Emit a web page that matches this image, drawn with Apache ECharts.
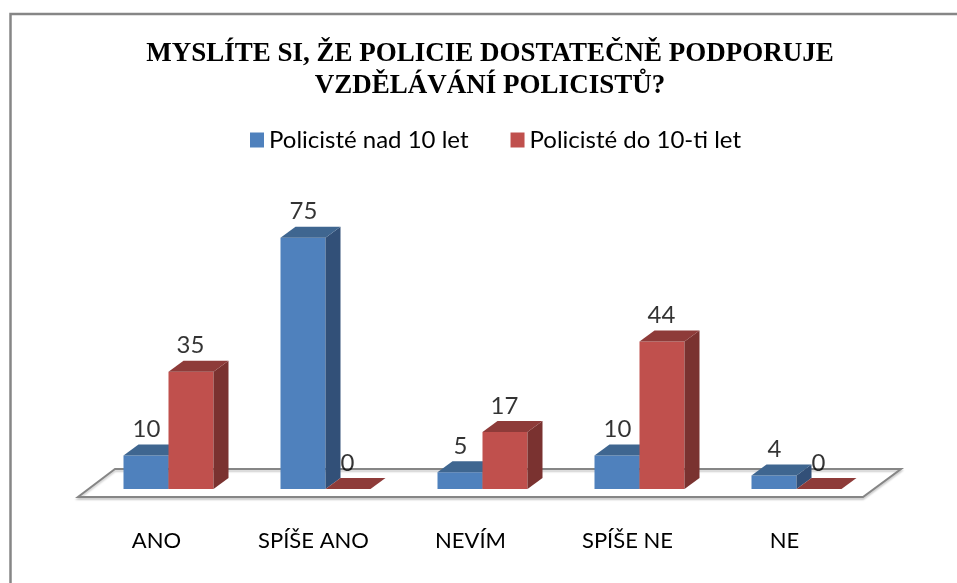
<!doctype html>
<html>
<head>
<meta charset="utf-8">
<title></title>
<script src="https://cdn.jsdelivr.net/npm/echarts@6/dist/echarts.min.js"></script>
<style>
html,body { margin:0; width:100%; height:100%; background:#fff; overflow:hidden; }
#container { width:957px; height:583px; }
</style>
</head>
<body>
<div id="container"></div>
<script type="text/javascript">
var categories = ['ANO', 'SPÍŠE ANO', 'NEVÍM', 'SPÍŠE NE', 'NE'];
var olderValues = [10, 75, 5, 10, 4];
var youngerValues = [35, 0, 17, 44, 0];
var olderName = 'Policisté nad 10 let';
var youngerName = 'Policisté do 10-ti let';
var chartTitle = 'MYSLÍTE SI, ŽE POLICIE DOSTATEČNĚ PODPORUJE\nVZDĚLÁVÁNÍ POLICISTŮ?';

var barW = 45, depthX = 15, depthY = 11;

function poly(points, fill) {
	return { type: 'polygon', shape: { points: points }, style: { fill: fill } };
}

// 3D look: front, top and side faces, offset by the depth
function bar3d(side, front, top, right) {
	return function(params, api) {
		var base = api.coord([params.dataIndex, 0]);
		var tip = api.coord([params.dataIndex, api.value(1)]);
		var x0 = side < 0 ? base[0] - barW : base[0];
		var x1 = x0 + barW, y0 = tip[1], y1 = base[1];
		var kids = [];
		if (y1 - y0 > 0.5) {
			kids.push(poly([[x0, y0], [x1, y0], [x1, y1], [x0, y1]], front));
			kids.push(poly([[x1, y0], [x1 + depthX, y0 - depthY], [x1 + depthX, y1 - depthY], [x1, y1]], right));
		}
		kids.push(poly([[x0, y0], [x1, y0], [x1 + depthX, y0 - depthY], [x0 + depthX, y0 - depthY]], top));
		return { type: 'group', children: kids };
	};
}

function floorItem(params, api) {
	var s = params.coordSys;
	var yb = s.y + s.height;
	var pts = [[s.x - 12, yb + 8], [s.x + s.width - 12, yb + 8], [s.x + s.width + 26, yb - 20], [s.x + 25, yb - 20]];
	return {
		type: 'group',
		children: [{
			type: 'polygon',
			shape: { points: pts },
			style: { fill: '#fff', stroke: '#868686', lineWidth: 2, shadowColor: '#ccc', shadowBlur: 2, shadowOffsetY: 2 }
		}]
	};
}

function labelSeries(name, values, dx) {
	return {
		name: name + ' label',
		type: 'scatter',
		silent: true,
		symbolSize: 0,
		z: 10,
		data: values,
		label: {
			show: true,
			position: 'top',
			offset: [dx, -14],
			distance: 0,
			formatter: '{c}',
			fontFamily: 'Lato',
			fontSize: 24,
			color: '#000'
		}
	};
}

var dom = document.getElementById('container');
var myChart = echarts.init(dom);

var option = {
	animation: false,
	backgroundColor: '#fff',
	title: {
		text: chartTitle,
		left: 485,
		top: 33,
		textAlign: 'center',
		textStyle: { fontFamily: 'Liberation Serif', fontWeight: 'bold', fontSize: 27, lineHeight: 32, color: '#000' }
	},
	legend: {
		left: 245,
		top: 123,
		itemWidth: 14,
		itemHeight: 15,
		itemGap: 42,
		icon: 'rect',
		data: [olderName, youngerName],
		textStyle: { fontFamily: 'Lato', fontSize: 24, color: '#000' }
	},
	grid: { left: 90, width: 785, top: 221, height: 268 },
	xAxis: {
		type: 'category',
		data: categories,
		axisLine: { show: false },
		axisTick: { show: false },
		axisLabel: { margin: 41, padding: [0, 24, 0, 0], fontFamily: 'Lato', fontSize: 22, color: '#000', interval: 0 }
	},
	yAxis: { type: 'value', min: 0, max: 80, show: false },
	graphic: [{
		type: 'polyline',
		shape: { points: [[10.5, 583], [10.5, 14], [957, 14]] },
		style: { fill: 'none', stroke: '#868686', lineWidth: 2.5 }
	}],
	series: [{
		type: 'custom',
		silent: true,
		z: 1,
		renderItem: floorItem,
		data: [0]
	}, {
		name: olderName,
		type: 'custom',
		z: 2,
		itemStyle: { color: '#4f81bd' },
		renderItem: bar3d(-1, '#4f81bd', '#3f6690', '#325078'),
		encode: { x: 0, y: 1 },
		data: olderValues.map(function(v, i) { return [i, v]; })
	}, {
		name: youngerName,
		type: 'custom',
		z: 3,
		itemStyle: { color: '#c0504d' },
		renderItem: bar3d(1, '#c0504d', '#8e3b39', '#7a3230'),
		encode: { x: 0, y: 1 },
		data: youngerValues.map(function(v, i) { return [i, v]; })
	},
	labelSeries(olderName, olderValues, -22),
	labelSeries(youngerName, youngerValues, 22)]
};

myChart.setOption(option, true);
</script>
</body>
</html>
